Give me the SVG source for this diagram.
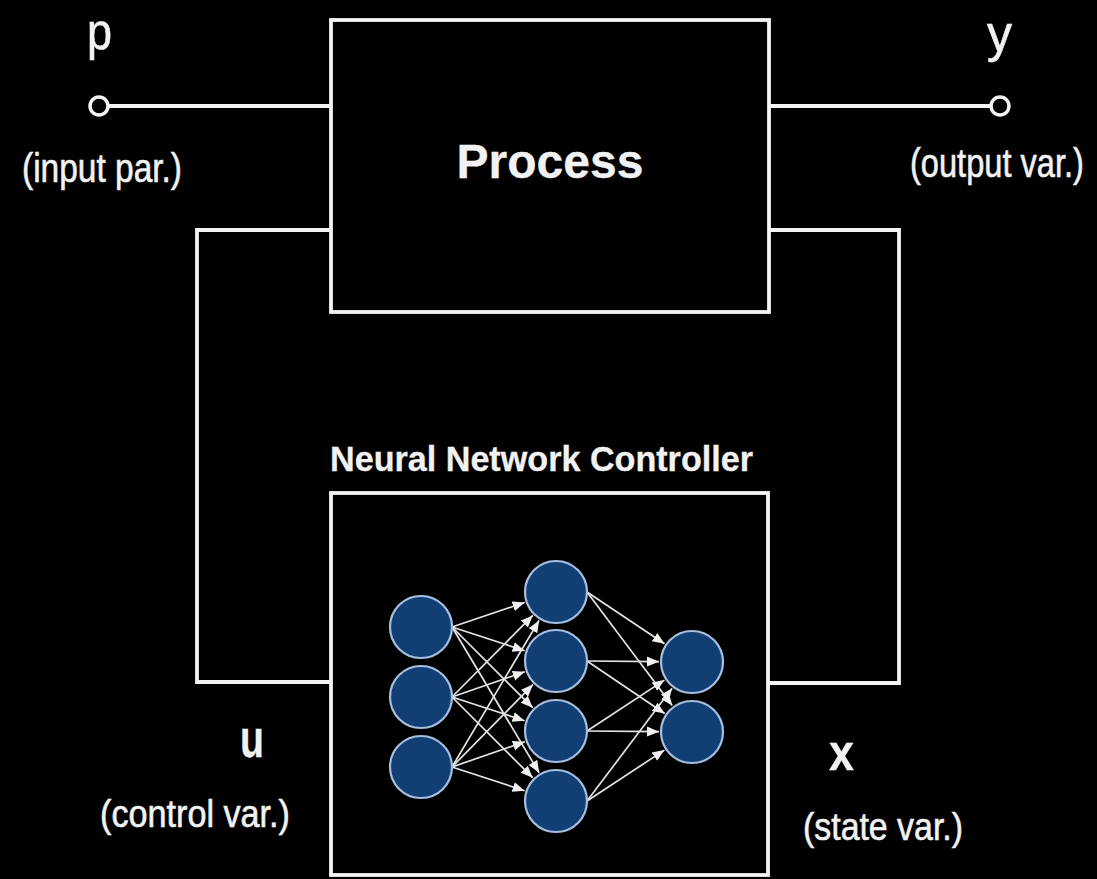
<svg xmlns="http://www.w3.org/2000/svg" width="1097" height="879" viewBox="0 0 1097 879">
<defs>
<style>
.wire{fill:none;stroke:#f4f4f4;stroke-width:3.8;stroke-linejoin:miter}
.box{fill:#000;stroke:#f4f4f4;stroke-width:3.8}
.term{fill:#000;stroke:#f4f4f4;stroke-width:3.5}
.lbl{font-family:"Liberation Sans",Arial,sans-serif;fill:#f2f2f2;stroke:#f2f2f2;stroke-width:0.6}
.b{font-weight:bold;stroke-width:0.3}
.neuron{fill:#123f73;stroke:#a5bfe0;stroke-width:2.2}
.syn{stroke:#e4e4e4;stroke-width:1.7;fill:none;marker-end:url(#ah)}
</style>
<marker id="ah" markerUnits="userSpaceOnUse" markerWidth="12" markerHeight="12" viewBox="0 0 12 12" refX="12" refY="6" orient="auto">
<path d="M0,1 L12,6 L0,11 z" fill="#f0f0f0"/>
</marker>
</defs>
<rect width="1097" height="879" fill="#000"/>

<g id="connectors">
<line class="wire" x1="107" y1="106" x2="331" y2="106"/>
<line class="wire" x1="769" y1="106" x2="991" y2="106"/>
<polyline class="wire" points="331,230 197,230 197,682 331,682"/>
<polyline class="wire" points="769,230 899,230 899,683 768,683"/>
</g>

<g id="process">
<rect class="box" x="331" y="20" width="438" height="292"/>
<text class="lbl b" x="550" y="178" font-size="48" text-anchor="middle">Process</text>
</g>

<g id="controller">
<text class="lbl b" x="330" y="471" font-size="35" textLength="423" lengthAdjust="spacingAndGlyphs">Neural Network Controller</text>
<rect class="box" x="331" y="493" width="437" height="382"/>
<g id="synapses">
<line class="syn" x1="452" y1="627" x2="524.7" y2="602.5"/>
<line class="syn" x1="452" y1="627" x2="524.6" y2="650.7"/>
<line class="syn" x1="452" y1="627" x2="532.7" y2="707.7"/>
<line class="syn" x1="452" y1="627" x2="539.1" y2="772.7"/>
<line class="syn" x1="452" y1="697" x2="532.8" y2="615.4"/>
<line class="syn" x1="452" y1="697" x2="524.8" y2="671.8"/>
<line class="syn" x1="452" y1="697" x2="524.6" y2="720.7"/>
<line class="syn" x1="452" y1="697" x2="532.7" y2="777.7"/>
<line class="syn" x1="452" y1="767" x2="539.1" y2="620.4"/>
<line class="syn" x1="452" y1="767" x2="532.9" y2="684.6"/>
<line class="syn" x1="452" y1="767" x2="524.8" y2="741.8"/>
<line class="syn" x1="452" y1="767" x2="524.6" y2="790.7"/>
<line class="syn" x1="587" y1="592" x2="664.5" y2="643.7"/>
<line class="syn" x1="587" y1="592" x2="672.2" y2="705.6"/>
<line class="syn" x1="587" y1="661" x2="659" y2="661.7"/>
<line class="syn" x1="587" y1="661" x2="664.7" y2="713.5"/>
<line class="syn" x1="587" y1="731" x2="664.4" y2="680.1"/>
<line class="syn" x1="587" y1="731" x2="659" y2="731.7"/>
<line class="syn" x1="587" y1="801" x2="672.1" y2="688.3"/>
<line class="syn" x1="587" y1="801" x2="664.4" y2="750.1"/>
</g>
<g id="neurons">
<circle class="neuron" cx="421" cy="627" r="31"/>
<circle class="neuron" cx="421" cy="697" r="31"/>
<circle class="neuron" cx="421" cy="767" r="31"/>
<circle class="neuron" cx="556" cy="592" r="31"/>
<circle class="neuron" cx="556" cy="661" r="31"/>
<circle class="neuron" cx="556" cy="731" r="31"/>
<circle class="neuron" cx="556" cy="801" r="31"/>
<circle class="neuron" cx="692" cy="662" r="31"/>
<circle class="neuron" cx="692" cy="732" r="31"/>
</g>
</g>

<g id="input-p">
<circle class="term" cx="99" cy="106" r="9"/>
<text class="lbl" x="87" y="49" font-size="52" textLength="25" lengthAdjust="spacingAndGlyphs">p</text>
<text class="lbl" x="22" y="182" font-size="40" textLength="160" lengthAdjust="spacingAndGlyphs">(input par.)</text>
</g>

<g id="output-y">
<circle class="term" cx="1000" cy="106" r="9"/>
<text class="lbl" x="987" y="51" font-size="52" textLength="25" lengthAdjust="spacingAndGlyphs">y</text>
<text class="lbl" transform="translate(910,177) scale(0.815,1)" x="0" y="0" font-size="40">(output var.)</text>
</g>

<g id="control-u">
<text class="lbl b" x="240" y="757" font-size="54" textLength="24" lengthAdjust="spacingAndGlyphs">u</text>
<text class="lbl" x="100" y="827" font-size="38" textLength="190" lengthAdjust="spacingAndGlyphs">(control var.)</text>
</g>

<g id="state-x">
<text class="lbl b" x="829" y="770" font-size="52" textLength="25" lengthAdjust="spacingAndGlyphs">x</text>
<text class="lbl" x="803" y="840" font-size="38" textLength="160" lengthAdjust="spacingAndGlyphs">(state var.)</text>
</g>
</svg>
